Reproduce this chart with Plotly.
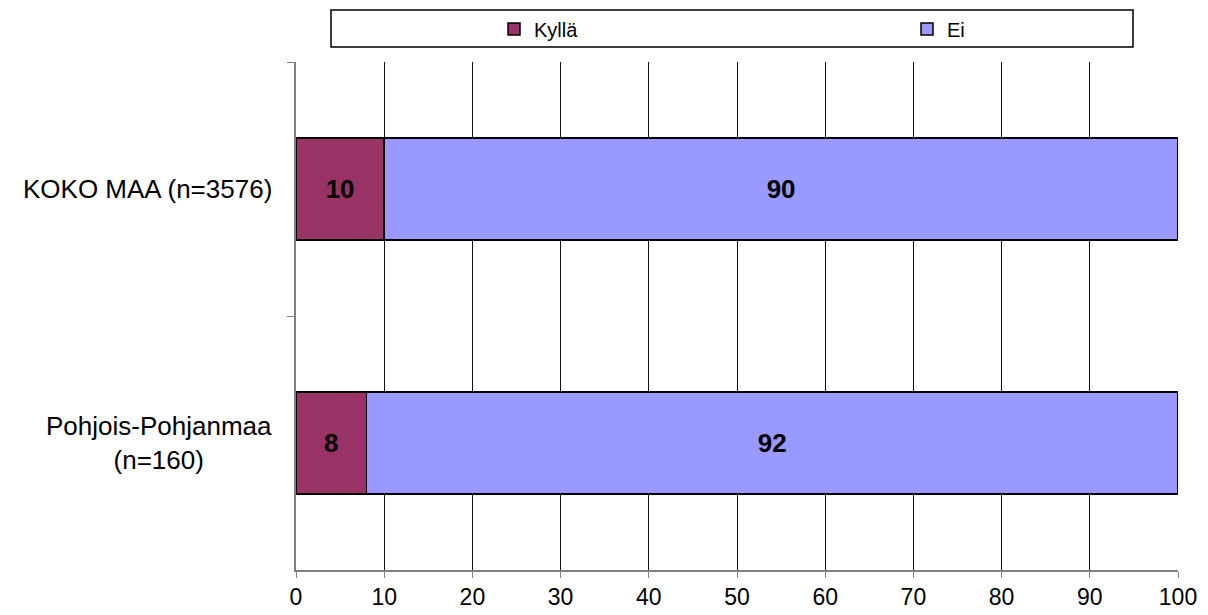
import plotly.graph_objects as go

categories = ["KOKO MAA (n=3576)", "Pohjois-Pohjanmaa<br>(n=160)"]
series_names = ["Kyllä", "Ei"]
kylla = [10, 8]
ei = [90, 92]
x_ticks = [0, 10, 20, 30, 40, 50, 60, 70, 80, 90, 100]

colors = {"Kyllä": "#993366", "Ei": "#9999FF"}
legend_ids = {"Kyllä": "legend", "Ei": "legend2"}
FONT = "Liberation Sans, Arial, sans-serif"

fig = go.Figure()
for name, vals in zip(series_names, [kylla, ei]):
    fig.add_trace(go.Bar(
        y=categories, x=vals, name=name, orientation="h",
        legend=legend_ids[name],
        marker=dict(color=colors[name], line=dict(color="black", width=1.5)),
        text=[str(v) for v in vals], textposition="inside",
        insidetextanchor="middle", constraintext="none",
        textfont=dict(family=FONT, size=26, color="black", weight="bold"),
    ))

for c in categories:
    fig.add_annotation(
        x=0, xref="paper", y=c, yref="y", text=c, showarrow=False,
        xanchor="right", yanchor="middle", align="center", xshift=-22,
        font=dict(family=FONT, size=26, color="black"),
    )

fig.add_shape(type="rect", xref="paper", yref="paper",
              x0=(331 - 296) / 882, x1=(1133 - 296) / 882,
              y0=1 + (62 - 47) / 508, y1=1 + (62 - 10) / 508,
              line=dict(color="black", width=1.5), fillcolor="rgba(0,0,0,0)")

legend_common = dict(orientation="h", xanchor="left", yanchor="middle",
                     y=1 + (62 - 29) / 508,
                     font=dict(family=FONT, size=20, color="black"),
                     bgcolor="rgba(0,0,0,0)")

fig.update_layout(
    width=1200, height=607,
    margin=dict(l=288, r=30, t=54, b=45, autoexpand=False),
    barmode="stack", bargap=0.6,
    plot_bgcolor="white", paper_bgcolor="white",
    font=dict(family=FONT, color="black"),
    showlegend=True,
    legend=dict(x=(494 - 296) / 882, **legend_common),
    legend2=dict(x=(907 - 296) / 882, **legend_common),
    xaxis=dict(range=[0, 100], tickvals=x_ticks, ticktext=[str(t) for t in x_ticks],
               showgrid=True, gridcolor="#111111", gridwidth=1,
               showline=True, linecolor="#808080", linewidth=1.5,
               ticks="outside", ticklen=6, tickcolor="#808080",
               tickfont=dict(family=FONT, size=23, color="black"),
               zeroline=False, fixedrange=True),
    yaxis=dict(categoryorder="array", categoryarray=categories, autorange="reversed",
               showticklabels=False, showgrid=False,
               showline=True, linecolor="#808080", linewidth=1.5,
               ticks="outside", ticklen=7, tickcolor="#808080", tickson="boundaries",
               zeroline=False, fixedrange=True),
)

fig.write_html("out.html")
